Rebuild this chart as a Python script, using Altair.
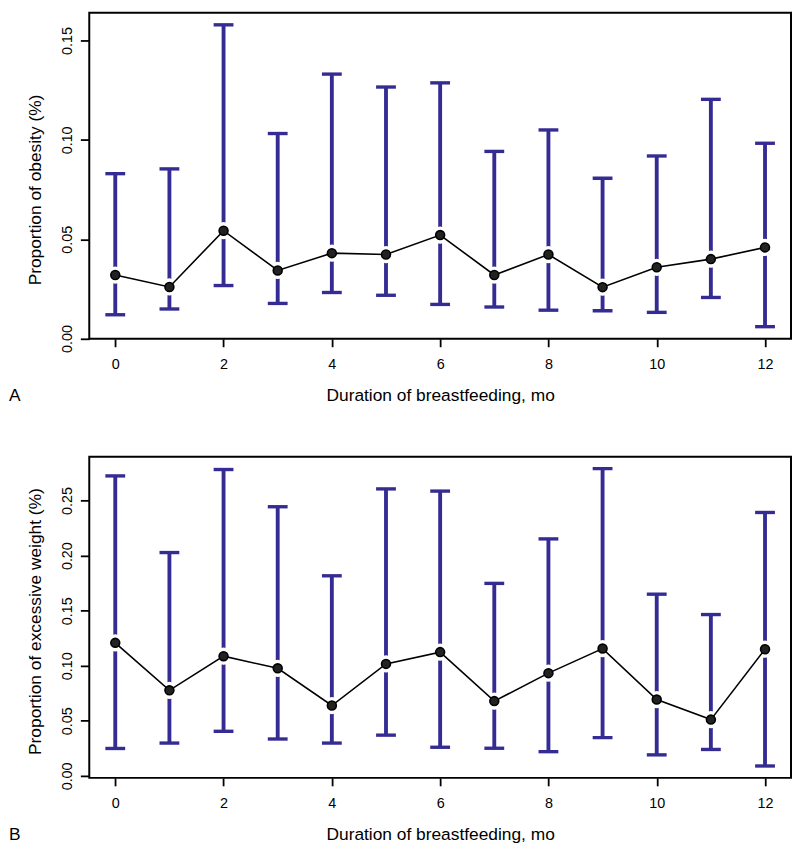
import altair as alt
import pandas as pd

# ---- data ----
months = list(range(13))
x_ticks = [0, 2, 4, 6, 8, 10, 12]

obesity_est = [0.0320, 0.0260, 0.0543, 0.0343, 0.0430, 0.0423, 0.0521, 0.0320, 0.0423, 0.0259, 0.0359, 0.0400, 0.0459]
obesity_lo = [0.0120, 0.0149, 0.0267, 0.0177, 0.0232, 0.0218, 0.0172, 0.0159, 0.0143, 0.0140, 0.0132, 0.0207, 0.0060]
obesity_hi = [0.0830, 0.0854, 0.1579, 0.1032, 0.1331, 0.1266, 0.1287, 0.0942, 0.1050, 0.0807, 0.0919, 0.1204, 0.0983]
obesity_ticks = [0.0, 0.05, 0.10, 0.15]

excess_est = [0.1208, 0.0777, 0.1087, 0.0977, 0.0639, 0.1017, 0.1124, 0.0679, 0.0933, 0.1156, 0.0693, 0.0511, 0.1150]
excess_lo = [0.0249, 0.0298, 0.0405, 0.0335, 0.0298, 0.0370, 0.0260, 0.0251, 0.0220, 0.0347, 0.0191, 0.0240, 0.0090]
excess_hi = [0.2724, 0.2028, 0.2782, 0.2444, 0.1817, 0.2606, 0.2586, 0.1748, 0.2152, 0.2790, 0.1650, 0.1465, 0.2392]
excess_ticks = [0.0, 0.05, 0.10, 0.15, 0.20, 0.25]

x_title = "Duration of breastfeeding, mo"
panel_letters = ["A", "B"]
y_titles = ["Proportion of obesity (%)", "Proportion of excessive weight (%)"]

FONT = "Liberation Sans"
BLUE = "#352C93"
W = 708


def panel(est, lo, hi, letter, ytitle, ydomain, yticks, height, title_center):
    df = pd.DataFrame({"month": months, "est": est, "lo": lo, "hi": hi})
    base = alt.Chart(df)
    xscale = alt.Scale(domain=[-0.48, 12.48], nice=False, zero=False)
    xaxis = alt.Axis(values=x_ticks, format="d", title=x_title, tickSize=8,
                     labelPadding=22.3, labelBaseline="alphabetic", labelFlush=False,
                     titleY=62.5, titleBaseline="alphabetic")
    yscale = alt.Scale(domain=ydomain, nice=False, zero=False)
    yaxis = alt.Axis(values=yticks, format=".2f", title=ytitle, tickSize=9,
                     labelPadding=9.3, labelAngle=270, labelAlign="center",
                     labelBaseline="alphabetic", labelFlush=False,
                     titleAngle=270, titleX=-49.3, titleY=title_center,
                     titleBaseline="alphabetic", titleAlign="center")

    def X():
        return alt.X("month:Q", scale=xscale, axis=xaxis)

    def Y(field):
        return alt.Y(field, scale=yscale, axis=yaxis)

    bars = base.mark_rule(color=BLUE, strokeWidth=3.9, strokeCap="butt").encode(
        x=X(), y=Y("lo:Q"), y2="hi:Q")
    caps = base.transform_fold(["lo", "hi"], as_=["bound", "value"]).mark_tick(
        orient="horizontal", color=BLUE, size=20, thickness=3.4, opacity=1).encode(
        x=X(), y=Y("value:Q"))
    gaps = base.mark_circle(color="white", size=303, opacity=1).encode(x=X(), y=Y("est:Q"))
    line = base.mark_line(color="black", strokeWidth=1.6).encode(x=X(), y=Y("est:Q"))
    pts = base.mark_circle(size=81, color="#222222", stroke="black", strokeWidth=1.6,
                           opacity=1).encode(x=X(), y=Y("est:Q"))
    lab = alt.Chart(pd.DataFrame({"letter": [letter]})).mark_text(
        align="left", baseline="alphabetic", fontSize=17.5, font=FONT, color="black").encode(
        text="letter:N", x=alt.value(-81), y=alt.value(height + 62.5))
    return alt.layer(bars, caps, gaps, line, pts, lab).properties(width=W, height=height)


A = panel(obesity_est, obesity_lo, obesity_hi, panel_letters[0], y_titles[0],
          [-0.0001, 0.1640], obesity_ticks, 329, 178.4)
B = panel(excess_est, excess_lo, excess_hi, panel_letters[1], y_titles[1],
          [-0.0018, 0.2898], excess_ticks, 324, 165.8)

chart = alt.vconcat(A, B, spacing=119, bounds="flush", padding=0).properties(
    background="white"
).configure_view(stroke="black", strokeWidth=2).configure_axis(
    domain=False, grid=False, tickColor="black", tickWidth=1.8,
    labelColor="black", labelFont=FONT, labelFontSize=14.5,
    titleFont=FONT, titleFontSize=17.5, titleFontWeight="normal", titleColor="black"
)

chart.save("out.html", embed_options={"renderer": "svg", "actions": False})
